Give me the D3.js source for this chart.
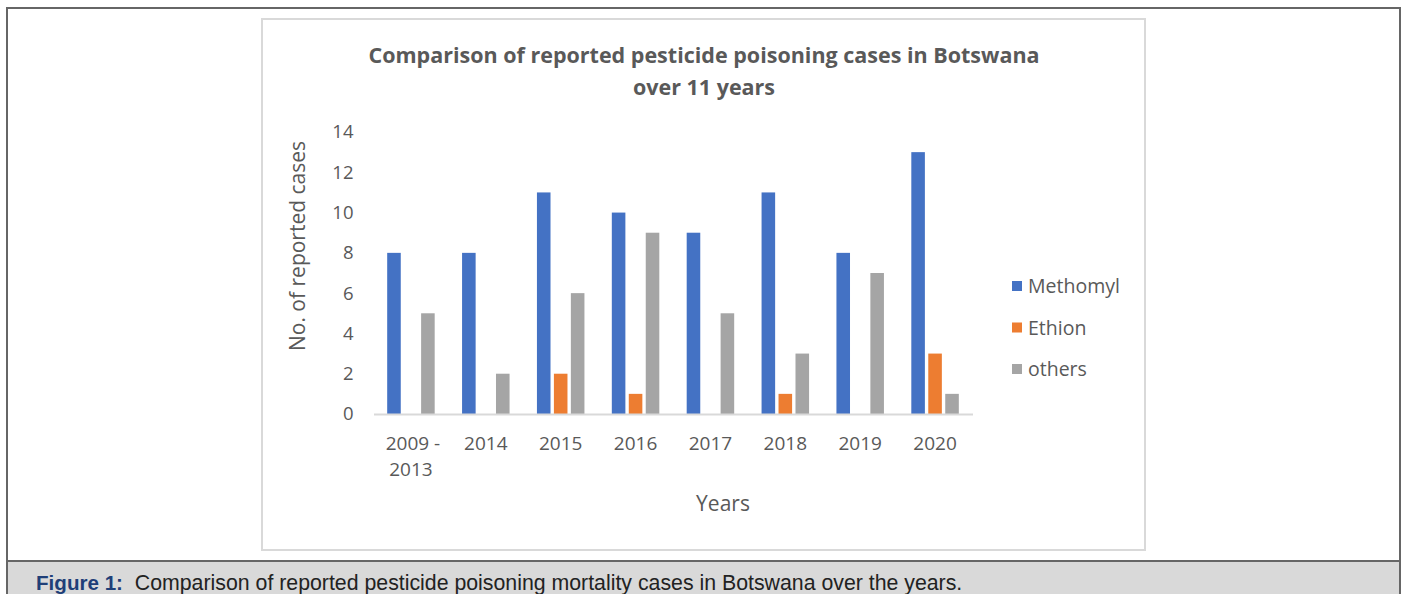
<!DOCTYPE html>
<html>
<head>
<meta charset="utf-8">
<script src="https://cdn.jsdelivr.net/npm/d3@7"></script>
<style>
  body { margin: 0; background: #fff; }
  svg { display: block; }
</style>
</head>
<body>
<svg width="1404" height="594"></svg>
<script>
// chart data
var years = ['2009 - 2013', '2014', '2015', '2016', '2017', '2018', '2019', '2020'];
var seriesNames = ['Methomyl', 'Ethion', 'others'];
var methomyl = [8, 8, 11, 10, 9, 11, 8, 13];
var ethion = [0, 0, 2, 1, 0, 1, 0, 3];
var others = [5, 2, 6, 9, 5, 3, 7, 1];
var yTicks = [0, 2, 4, 6, 8, 10, 12, 14];
var colors = ['#4472c4', '#ed7d31', '#a5a5a5'];

var seriesValues = [methomyl, ethion, others];

var svg = d3.select('svg');
var chartFont = "'Open Sans', sans-serif";
var textColor = '#595959';

// outer page frame and caption bar
svg.append('rect')
    .attr('x', 7).attr('y', 8)
    .attr('width', 1393).attr('height', 600)
    .attr('fill', '#fff')
    .attr('stroke', '#666').attr('stroke-width', 2);

svg.append('rect')
    .attr('x', 8).attr('y', 561)
    .attr('width', 1391).attr('height', 40)
    .attr('fill', '#d9d9d9');
svg.append('line')
    .attr('x1', 7).attr('x2', 1400)
    .attr('y1', 561).attr('y2', 561)
    .attr('stroke', '#666').attr('stroke-width', 2);

// inner chart frame
svg.append('rect')
    .attr('x', 262).attr('y', 19)
    .attr('width', 883).attr('height', 531)
    .attr('fill', '#fff')
    .attr('stroke', '#d9d9d9').attr('stroke-width', 2);

// caption
var caption = svg.append('text')
    .attr('x', 36).attr('y', 590)
    .style('font-family', "'Liberation Sans', Arial, sans-serif")
    .style('font-size', '21.3px')
    .attr('fill', '#222');
caption.append('tspan')
    .attr('fill', '#1f3f78')
    .style('font-weight', 'bold')
    .style('font-size', '20.6px')
    .text('Figure 1:');
caption.append('tspan')
    .text('\u00a0 Comparison of reported pesticide poisoning mortality cases in Botswana over the years.');

// title
var title = svg.append('text')
    .attr('text-anchor', 'middle')
    .style('font-family', chartFont)
    .style('font-weight', 'bold')
    .style('font-size', '21.5px')
    .attr('fill', textColor);
title.append('tspan').attr('x', 704).attr('y', 63)
    .text('Comparison of reported pesticide poisoning cases in Botswana');
title.append('tspan').attr('x', 704).attr('y', 95)
    .text('over 11 years');

// scales
var plot = {l: 373.5, r: 972.5, t: 132, b: 414};

var x0 = d3.scaleBand()
    .domain(years)
    .range([plot.l, plot.r]);

var groupWidth = 47.5;
var x1 = d3.scaleBand()
    .domain(seriesNames)
    .range([(x0.bandwidth() - groupWidth) / 2, (x0.bandwidth() + groupWidth) / 2])
    .paddingInner(0.2);

var y = d3.scaleLinear()
    .domain([0, 14])
    .range([plot.b, plot.t]);

// y axis (labels only)
var yAxis = d3.axisLeft(y).tickValues(yTicks).tickSize(0).tickPadding(12);
var yG = svg.append('g')
    .attr('transform', 'translate(' + (plot.l - 8) + ',0)')
    .call(yAxis);
yG.select('.domain').remove();
yG.selectAll('text')
    .style('font-family', chartFont)
    .style('font-size', '18.5px')
    .attr('fill', textColor);

// bars
var groups = svg.append('g').selectAll('g')
    .data(years)
    .join('g')
    .attr('transform', function(d) { return 'translate(' + x0(d) + ',0)'; });

groups.selectAll('rect')
    .data(function(d, i) {
        return seriesNames.map(function(s, j) {
            return {series: s, value: seriesValues[j][i], color: colors[j]};
        });
    })
    .join('rect')
    .attr('x', function(d) { return x1(d.series); })
    .attr('width', x1.bandwidth())
    .attr('y', function(d) { return y(d.value); })
    .attr('height', function(d) { return y(0) - y(d.value); })
    .attr('fill', function(d) { return d.color; });

// x axis
var xAxis = d3.axisBottom(x0).tickSize(0).tickPadding(0).tickFormat('');
var xG = svg.append('g')
    .attr('transform', 'translate(0,' + plot.b + ')')
    .call(xAxis);
xG.select('.domain')
    .attr('stroke', '#d9d9d9')
    .attr('stroke-width', 2);

xG.selectAll('.tick')
    .append('text')
    .attr('text-anchor', 'middle')
    .style('font-family', chartFont)
    .style('font-size', '19px')
    .attr('fill', textColor)
    .each(function(d) {
        var parts = d === '2009 - 2013' ? ['2009 -', '2013'] : [d];
        var t = d3.select(this);
        parts.forEach(function(p, i) {
            t.append('tspan')
                .attr('x', i === 0 && parts.length > 1 ? 2 : 0)
                .attr('y', 36 + i * 26)
                .text(p);
        });
    });

// axis titles
svg.append('text')
    .attr('text-anchor', 'middle')
    .attr('transform', 'translate(305,246) rotate(-90)')
    .style('font-family', chartFont)
    .style('font-size', '21px')
    .attr('fill', textColor)
    .text('No. of reported cases');

svg.append('text')
    .attr('x', 723).attr('y', 511)
    .attr('text-anchor', 'middle')
    .style('font-family', chartFont)
    .style('font-size', '21px')
    .attr('fill', textColor)
    .text('Years');

// legend
var legend = svg.append('g').selectAll('g')
    .data(seriesNames)
    .join('g')
    .attr('transform', function(d, i) { return 'translate(1012,' + (286 + i * 41.5) + ')'; });

legend.append('rect')
    .attr('x', 0).attr('y', -5)
    .attr('width', 10).attr('height', 10)
    .attr('fill', function(d, i) { return colors[i]; });

legend.append('text')
    .attr('x', 16).attr('y', 7)
    .style('font-family', chartFont)
    .style('font-size', '19.5px')
    .attr('fill', textColor)
    .text(function(d) { return d; });
</script>
</body>
</html>
